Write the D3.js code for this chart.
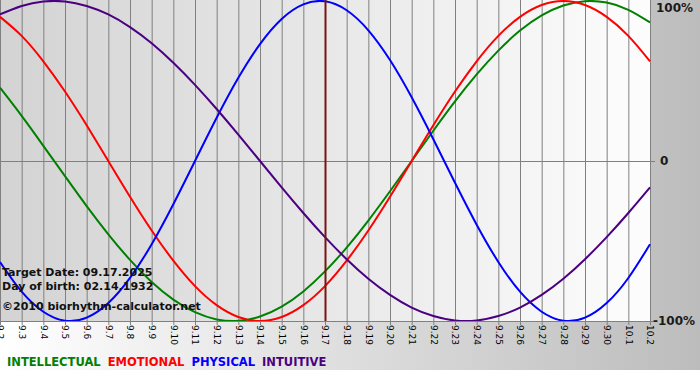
<!DOCTYPE html>
<html>
<head>
<meta charset="utf-8">
<script src="https://cdn.jsdelivr.net/npm/d3@7"></script>
<style>
  body { margin: 0; background: #fff; }
  svg { display: block; }
  text { font-family: "DejaVu Sans", Verdana, sans-serif; }
</style>
</head>
<body>
<div id="chart"></div>
<script>
// day labels, 9.2 .. 10.2
const days = ["9.2","9.3","9.4","9.5","9.6","9.7","9.8","9.9","9.10","9.11","9.12","9.13","9.14","9.15","9.16",
  "9.17","9.18","9.19","9.20","9.21","9.22","9.23","9.24","9.25","9.26","9.27","9.28","9.29","9.30","10.1","10.2"];

const intellectual = [0.458,0.282,0.095,-0.095,-0.282,-0.458,-0.618,-0.756,-0.866,-0.945,-0.990,-0.999,-0.972,-0.910,-0.815,
  -0.690,-0.541,-0.372,-0.189,0.000,0.189,0.372,0.541,0.690,0.815,0.910,0.972,0.999,0.990,0.945,0.866];
const emotional = [0.901,0.782,0.623,0.434,0.223,0.000,-0.223,-0.434,-0.623,-0.782,-0.901,-0.975,-1.000,-0.975,-0.901,
  -0.782,-0.623,-0.434,-0.223,0.000,0.223,0.434,0.623,0.782,0.901,0.975,1.000,0.975,0.901,0.782,0.623];
const physical = [-0.631,-0.817,-0.942,-0.998,-0.979,-0.888,-0.731,-0.520,-0.270,0.000,0.270,0.520,0.731,0.888,0.979,
  0.998,0.942,0.817,0.631,0.398,0.136,-0.136,-0.398,-0.631,-0.817,-0.942,-0.998,-0.979,-0.888,-0.731,-0.520];
const intuitive = [0.916,0.969,0.997,0.997,0.969,0.916,0.837,0.736,0.614,0.476,0.325,0.165,0.000,-0.165,-0.325,
  -0.476,-0.614,-0.736,-0.837,-0.916,-0.969,-0.997,-0.997,-0.969,-0.916,-0.837,-0.736,-0.614,-0.476,-0.325,-0.165];

const targetDay = "9.17";
const infoLines = ["Target Date: 09.17.2025", "Day of birth: 02.14.1932"];
const copyright = "\u00a92010 biorhythm-calculator.net";

const series = [
  { name: "INTELLECTUAL", values: intellectual, color: "#008000" },
  { name: "EMOTIONAL", values: emotional, color: "#ff0000" },
  { name: "PHYSICAL", values: physical, color: "#0000ff" },
  { name: "INTUITIVE", values: intuitive, color: "#4b0082" }
];

const W = 700, H = 380;
const plotW = 650, plotH = 321;

const svg = d3.select("#chart").append("svg")
  .attr("width", W).attr("height", H);

const defs = svg.append("defs");
const bgGrad = defs.append("linearGradient").attr("id", "bgGrad");
bgGrad.append("stop").attr("offset", "0%").attr("stop-color", "#ffffff");
bgGrad.append("stop").attr("offset", "100%").attr("stop-color", "#bcbcbc");
const plotGrad = defs.append("linearGradient").attr("id", "plotGrad");
plotGrad.append("stop").attr("offset", "0%").attr("stop-color", "#d3d3d3");
plotGrad.append("stop").attr("offset", "100%").attr("stop-color", "#fdfdfd");
defs.append("clipPath").attr("id", "plotClip")
  .append("rect").attr("width", plotW + 1).attr("height", plotH);

svg.append("rect").attr("width", W).attr("height", 370).attr("fill", "url(#bgGrad)");
svg.append("rect").attr("width", plotW).attr("height", plotH).attr("fill", "url(#plotGrad)");

const x = d3.scaleLinear().domain([0, days.length - 1]).range([0, plotW]);
const y = d3.scaleLinear().domain([-1, 1]).range([plotH, 1]);

// vertical grid + ticks
svg.append("g").selectAll("line").data(days).join("line")
  .attr("x1", (d, i) => x(i) + 0.5).attr("x2", (d, i) => x(i) + 0.5)
  .attr("y1", 0).attr("y2", plotH + 4)
  .attr("stroke", "#808080").attr("stroke-width", 1);

// zero and bottom lines
svg.append("line").attr("x1", 0).attr("x2", plotW + 5)
  .attr("y1", Math.round(y(0)) + 0.5).attr("y2", Math.round(y(0)) + 0.5)
  .attr("stroke", "#808080");
svg.append("line").attr("x1", 0).attr("x2", plotW + 5)
  .attr("y1", plotH + 0.5).attr("y2", plotH + 0.5)
  .attr("stroke", "#808080");

// day labels, rotated
svg.append("g").selectAll("text").data(days).join("text")
  .attr("transform", (d, i) => `translate(${x(i) + 0.5},${plotH + 4}) rotate(90)`)
  .attr("dy", "0.35em")
  .attr("font-size", 9)
  .attr("fill", "#000")
  .text(d => d);

// y labels
const yLabels = [["100%", 1, 8], ["0", 0, 0], ["-100%", -1, 0]];
svg.append("g").selectAll("text").data(yLabels).join("text")
  .attr("x", d => d[0] === "0" ? 660 : (d[0] === "100%" ? 656 : 653))
  .attr("y", d => Math.max(y(d[1]), d[2]) + 4)
  .attr("font-size", 12).attr("font-weight", "bold").attr("fill", "#1a1a1a")
  .text(d => d[0]);

// curves
const line = d3.line()
  .x((d, i) => x(i))
  .y(d => y(d))
  .curve(d3.curveNatural);

svg.append("g").attr("clip-path", "url(#plotClip)")
  .selectAll("path").data(series).join("path")
  .attr("d", d => line(d.values))
  .attr("fill", "none")
  .attr("stroke", d => d.color)
  .attr("stroke-width", 2);

// target day marker
const ti = days.indexOf(targetDay);
svg.append("line")
  .attr("x1", x(ti) + 0.5).attr("x2", x(ti) + 0.5)
  .attr("y1", 0).attr("y2", plotH)
  .attr("stroke", "#7a1414").attr("stroke-width", 2);

// info text
const info = svg.append("g").attr("font-size", 11).attr("font-weight", "bold").attr("fill", "#111");
info.selectAll("text").data(infoLines).join("text")
  .attr("x", 2).attr("y", (d, i) => 276 + i * 14)
  .text(d => d);
info.append("text").attr("x", 2).attr("y", 310).text(copyright);

// legend
let lx = 7;
const legend = svg.append("g").attr("font-size", 11.5).attr("font-weight", "bold");
series.forEach(s => {
  const t = legend.append("text").attr("x", lx).attr("y", 366)
    .attr("fill", s.color).text(s.name);
  lx += t.node().getComputedTextLength() + 7;
});
</script>
</body>
</html>
